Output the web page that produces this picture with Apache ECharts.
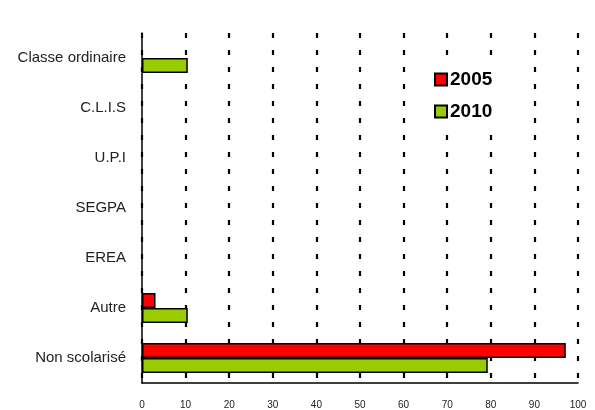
<!DOCTYPE html>
<html>
<head>
<meta charset="utf-8">
<script src="https://cdn.jsdelivr.net/npm/echarts@6/dist/echarts.min.js"></script>
<style>
html, body { margin: 0; padding: 0; background: #fff; }
#chart { width: 595px; height: 410px; }
</style>
</head>
<body>
<div id="chart"></div>
<script>
// données
var categories = ['Classe ordinaire', 'C.L.I.S', 'U.P.I', 'SEGPA', 'EREA', 'Autre', 'Non scolarisé'];
var values2005 = ['-', '-', '-', '-', '-', 3.1, 97.2];
var values2010 = [10.5, '-', '-', '-', '-', 10.5, 79.3];
var xTicks = [0, 10, 20, 30, 40, 50, 60, 70, 80, 90, 100];

var chart = echarts.init(document.getElementById('chart'));

var option = {
	animation: false,
	backgroundColor: '#fff',
	grid: { left: 142, right: 17, top: 33, bottom: 26 },
	legend: {
		orient: 'vertical',
		left: 426,
		top: 55,
		padding: [15, 25, 12, 8],
		backgroundColor: '#fff',
		icon: 'rect',
		itemWidth: 12,
		itemHeight: 12,
		itemGap: 13,
		data: ['2005', '2010'],
		textStyle: { fontFamily: 'Liberation Sans, Arial', fontWeight: 'bold', fontSize: 19, color: '#000', padding: [0, 0, 0, -2] }
	},
	xAxis: {
		type: 'value',
		min: 0,
		max: 100,
		interval: 10,
		axisLine: { show: true, lineStyle: { color: '#000', width: 1.5 } },
		axisTick: { show: false },
		axisLabel: {
			margin: 17,
			fontFamily: 'Liberation Sans, Arial',
			fontSize: 10,
			color: '#222',
			formatter: function(v) { return xTicks.indexOf(v) >= 0 ? String(v) : ''; }
		},
		splitLine: {
			show: true,
			lineStyle: { color: '#000', width: 2.2, type: [5, 12] }
		}
	},
	yAxis: {
		type: 'category',
		inverse: true,
		data: categories,
		axisLine: { show: true, lineStyle: { color: '#000', width: 1.5 } },
		axisTick: { show: false },
		axisLabel: {
			margin: 16,
			fontFamily: 'Liberation Sans, Arial',
			fontSize: 15,
			color: '#222'
		}
	},
	series: [{
		name: '2005',
		type: 'bar',
		data: values2005,
		barWidth: 15,
		barGap: '0%',
		itemStyle: { color: '#ff0000', borderColor: '#000', borderWidth: 1.5 }
	}, {
		name: '2010',
		type: 'bar',
		data: values2010,
		barWidth: 15,
		barGap: '0%',
		itemStyle: { color: '#99cc00', borderColor: '#000', borderWidth: 1.5 }
	}]
};

chart.setOption(option);
</script>
</body>
</html>
